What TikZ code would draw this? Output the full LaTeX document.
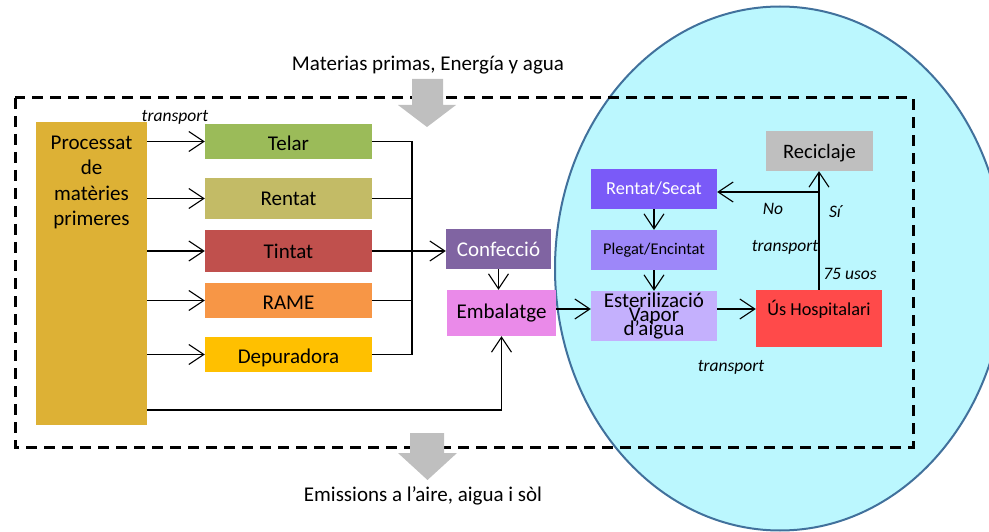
\documentclass[tikz,border=0pt]{standalone}
\usepackage[usenames,dvipsnames]{xcolor}
\usepackage{fontspec}
\setmainfont{Carlito}
\usepackage{tikz}
\usetikzlibrary{arrows.meta,calc}

\definecolor{procc}{HTML}{DDB135}
\definecolor{telarc}{HTML}{9BBB59}
\definecolor{rentatc}{HTML}{C3BB66}
\definecolor{tintatc}{HTML}{C0504D}
\definecolor{ramec}{HTML}{F79646}
\definecolor{depc}{HTML}{FFC000}
\definecolor{confc}{HTML}{8064A2}
\definecolor{embc}{HTML}{EA8AE9}
\definecolor{secatc}{HTML}{7A5AF8}
\definecolor{plegc}{HTML}{9D87F9}
\definecolor{esterc}{HTML}{C4B0FD}
\definecolor{hospc}{HTML}{FF4A4A}
\definecolor{recc}{HTML}{BFBFBF}
\definecolor{ellfill}{HTML}{BBF7FE}
\definecolor{elldraw}{HTML}{41719C}
\newcommand{\tightlines}{\lineskiplimit=-50pt\relax}

\begin{document}
\begin{tikzpicture}[x=1pt,y=-1pt,
  box/.style={rectangle, inner sep=0pt, font=\fontsize{21}{25}\selectfont},
  low/.style={text height=18pt, text depth=0pt},
  arr/.style={line width=1.1pt, -{Straight Barb[length=15pt,width=20pt]}},
  lbl/.style={font=\fontsize{17.5}{20}\selectfont\itshape, inner sep=0pt},
  blockarr/.style={fill=recc}]
\useasboundingbox (0,0) rectangle (989,532);

\begin{scope}
\clip (0,0) rectangle (989,532);
\filldraw[color=elldraw, fill=ellfill, line width=2pt] (780,268.5) ellipse [x radius=225pt, y radius=262pt];
\end{scope}

\draw[line width=3pt, dash pattern=on 11pt off 7pt] (15,98) rectangle (913,447);

% left part
\node (processat) at (91.5,273.5) [box, fill=procc, minimum width=111pt, minimum height=303pt] {};
\node (proctext) at (processat.north) [anchor=north, align=center, inner sep=0pt, yshift=-14pt,
  font=\fontsize{21}{25.5}\selectfont] {Processat\\de\\matèries\\primeres};

\node (telar) at (288.5,141.5) [box, low, fill=telarc, minimum width=167pt, minimum height=35pt] {Telar};
\node (rentat) at (288.5,198.5) [box, fill=rentatc, minimum width=167pt, minimum height=41pt] {Rentat};
\node (tintat) at (288.5,251) [box, fill=tintatc, minimum width=167pt, minimum height=42pt] {Tintat};
\node (rame) at (288.5,300.5) [box, low, fill=ramec, minimum width=167pt, minimum height=35pt] {RAME};
\node (depuradora) at (288.5,354.5) [box, low, fill=depc, minimum width=167pt, minimum height=35pt] {Depuradora};

\node (confeccio) at (498.5,249) [box, text height=16pt, text depth=0pt, fill=confc, text=white,
  minimum width=105pt, minimum height=40pt] {Confecció};
\node (embalatge) at (501.5,313) [box, fill=embc, minimum width=109pt, minimum height=46pt] {Embalatge};

% hospital cycle
\node (rentatsecat) at (654,189) [box, fill=secatc, text=white, minimum width=126pt, minimum height=40pt,
  font=\fontsize{18.3}{22}\selectfont] {Rentat/Secat};
\node (plegat) at (654,250) [box, fill=plegc, minimum width=126pt, minimum height=40pt,
  font=\fontsize{16.4}{20}\selectfont] {Plegat/Encintat};
\node (esteril) at (654,316) [box, fill=esterc, minimum width=126pt, minimum height=50pt, align=center,
  font=\fontsize{21}{14}\selectfont\tightlines] {Esterilizació\\Vapor\\d’aigua};
\node (hospital) at (819,318.5) [box, fill=hospc, minimum width=126pt, minimum height=57pt,
  text height=25pt, text depth=32pt, font=\fontsize{18.3}{22}\selectfont] {Ús Hospitalari};
\node (reciclaje) at (819.5,151) [box, text height=16pt, text depth=0pt, fill=recc,
  minimum width=107pt, minimum height=40pt, font=\fontsize{20.5}{24}\selectfont] {Reciclaje};

% connectors
\draw[arr] (processat.east |- telar.west) -- (telar.west);
\draw[arr] (processat.east |- rentat.west) -- (rentat.west);
\draw[arr] (processat.east |- tintat.west) -- (tintat.west);
\draw[arr] (processat.east |- rame.west) -- (rame.west);
\draw[arr] (processat.east |- depuradora.west) -- (depuradora.west);

\coordinate (bk) at (412,0);
\draw[line width=1.1pt] (telar.east) -- (telar.east -| bk) -- (depuradora.east -| bk) -- (depuradora.east);
\draw[line width=1.1pt] (rentat.east) -- (rentat.east -| bk);
\draw[line width=1.1pt] (rame.east) -- (rame.east -| bk);
\draw[arr] (tintat.east) -- (tintat.east -| confeccio.west);

\coordinate (low) at (0,410);
\draw[arr] (processat.east |- low) -| (embalatge.south);
\draw[arr] (confeccio.south) -- (confeccio.south |- embalatge.north);

\coordinate (mid) at (0,309);
\draw[arr] (embalatge.east |- mid) -- (esteril.west |- mid);
\draw[arr] (esteril.east |- mid) -- (hospital.west |- mid);
\draw[arr] (rentatsecat.south) -- (plegat.north);
\draw[arr] (plegat.south) -- (esteril.north);

\draw[arr] (hospital.north) -- (hospital.north |- reciclaje.south);
\coordinate (fork) at (819,192);
\draw[arr] (fork) -- (fork -| rentatsecat.east);

% labels
\node (ttop) at (175,117) [lbl] {transport};
\node (no) at (773,209) [lbl] {No};
\node (si) at (835,212) [lbl] {Sí};
\node (tmid) at (785,247) [lbl] {transport};
\node (usos) at (850,274) [lbl] {75 usos};
\node (tbot) at (731,367) [lbl] {transport};

% inputs and outputs
\fill[blockarr] (412,79) -- (443,79) -- (443,105) -- (456,105) -- (427,127) -- (398,105) -- (412,105) -- cycle;
\fill[blockarr] (410,433) -- (444,433) -- (444,453) -- (457,453) -- (427.5,480) -- (398,453) -- (410,453) -- cycle;
\node (inputs) at (428,65) [font=\fontsize{21}{25}\selectfont] {Materias primas, Energía y agua};
\node (outputs) at (423,496) [font=\fontsize{21}{25}\selectfont] {Emissions a l’aire, aigua i sòl};
\end{tikzpicture}
\end{document}
